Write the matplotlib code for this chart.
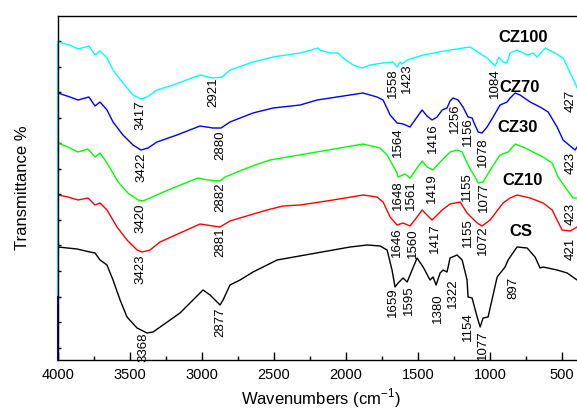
import matplotlib
matplotlib.use("Agg")
import matplotlib.pyplot as plt
from matplotlib.ticker import MultipleLocator

plt.rcParams['font.family'] = ['Liberation Sans', 'DejaVu Sans']
plt.rcParams['mathtext.fontset'] = 'custom'
plt.rcParams['mathtext.rm'] = 'Liberation Sans'

# ---------------- data (wavenumber, offset transmittance) ----------------
cz100_x = [4000, 3917, 3861, 3785, 3743, 3708, 3660, 3618, 3549, 3479, 3424, 3382, 3313, 3201, 3014,
           2924, 2861, 2806, 2646, 2507, 2319, 2194, 2181, 2111, 2056, 2021, 1951, 1889, 1833, 1743,
           1674, 1646, 1625, 1611, 1576, 1465, 1278, 1139, 1021, 986, 965, 938, 910, 882, 861, 813,
           743, 701, 674, 618, 563, 493, 444, 410, 396]
cz100_y = [318, 315, 311, 314, 305, 309, 302, 290, 277, 265, 261, 263, 270, 275, 285,
           282, 283, 290, 298, 303, 307, 312, 310, 307, 307, 302, 295, 292, 295, 297,
           298, 293, 298, 296, 300, 305, 310, 313, 302, 297, 294, 303, 298, 297, 307, 310,
           305, 307, 303, 312, 308, 302, 287, 277, 272]

cz70_x = [4000, 3917, 3861, 3785, 3743, 3708, 3660, 3618, 3549, 3479, 3424, 3375, 3313, 3174, 3014,
          2924, 2868, 2806, 2646, 2507, 2319, 2201, 1882, 1785, 1743, 1694, 1646, 1604, 1556, 1507,
          1472, 1438, 1403, 1368, 1333, 1299, 1278, 1257, 1222, 1188, 1153, 1125, 1111, 1083, 1056,
          1021, 979, 931, 882, 861, 826, 792, 722, 653, 597, 535, 493, 444, 410, 396]
cz70_y = [267, 263, 260, 263, 254, 258, 250, 238, 225, 215, 210, 212, 218, 225, 234,
          232, 232, 238, 247, 252, 255, 260, 267, 263, 260, 245, 237, 236, 233, 243,
          250, 244, 240, 243, 250, 252, 259, 262, 260, 253, 243, 242, 237, 228, 227,
          233, 243, 255, 258, 262, 267, 265, 258, 253, 248, 233, 220, 214, 210, 213]

cz30_x = [4000, 3931, 3861, 3792, 3743, 3708, 3674, 3639, 3583, 3514, 3444, 3410, 3347, 3236, 3028,
          2958, 2875, 2840, 2722, 2632, 2528, 1882, 1764, 1715, 1646, 1639, 1590, 1556, 1507, 1472,
          1438, 1396, 1347, 1278, 1229, 1194, 1160, 1139, 1104, 1083, 1049, 986, 931, 896, 875,
          826, 771, 701, 632, 569, 528, 465, 424, 396]
cz30_y = [217, 213, 208, 211, 203, 207, 200, 192, 178, 167, 160, 159, 163, 170, 182,
          180, 179, 183, 190, 195, 200, 216, 212, 205, 187, 183, 186, 182, 192, 199,
          193, 190, 198, 208, 210, 208, 197, 191, 183, 177, 178, 193, 205, 207, 208,
          216, 213, 208, 203, 197, 183, 170, 162, 162]

cz10_x = [4000, 3931, 3861, 3792, 3743, 3708, 3660, 3590, 3521, 3451, 3417, 3361, 3292, 3153, 3014,
          2924, 2875, 2806, 2667, 2549, 2438, 2319, 2090, 1882, 1785, 1743, 1694, 1646, 1604, 1556,
          1507, 1472, 1438, 1403, 1368, 1333, 1278, 1208, 1160, 1139, 1090, 1056, 1000, 910, 861,
          813, 722, 632, 569, 535, 500, 444, 396]
cz10_y = [165, 163, 160, 162, 155, 157, 150, 133, 120, 110, 108, 110, 118, 127, 136,
          134, 133, 139, 145, 150, 154, 155, 160, 165, 163, 158, 143, 135, 137, 134,
          143, 150, 145, 140, 145, 150, 156, 158, 147, 144, 137, 134, 140, 157, 162,
          165, 162, 157, 150, 140, 130, 129, 133]

cs_x = [4000, 3868, 3778, 3743, 3708, 3660, 3618, 3569, 3521, 3451, 3382, 3340, 3271, 3153, 3063,
        2993, 2944, 2875, 2854, 2806, 2736, 2646, 2479, 1972, 1854, 1764, 1715, 1681, 1660, 1639,
        1604, 1576, 1507, 1465, 1417, 1396, 1375, 1347, 1326, 1299, 1278, 1229, 1194, 1160, 1153,
        1125, 1090, 1069, 1049, 1014, 951, 896, 875, 813, 743, 688, 653, 632, 535, 465, 396]
cs_y = [113, 111, 108, 107, 100, 95, 80, 60, 43, 32, 27, 28, 35, 47, 60,
        70, 65, 55, 60, 75, 80, 88, 100, 113, 115, 114, 110, 90, 73, 77,
        82, 78, 102, 93, 80, 83, 75, 87, 90, 88, 102, 105, 100, 80, 63,
        62, 43, 33, 42, 43, 83, 93, 100, 113, 112, 103, 92, 93, 90, 87, 80]

series_names = ['CZ100', 'CZ70', 'CZ30', 'CZ10', 'CS']
series_colors = ['#00FFFF', '#0000FF', '#00FF00', '#FF0000', '#000000']

# peak labels: (text, wavenumber position, top y)
peaks_cz100 = [('3417', 3431, 260), ('2921', 2924, 283), ('1558', 1674, 292), ('1423', 1576, 297),
               ('1084', 965, 292), ('427', 438, 270)]
peaks_cz70 = [('3422', 3424, 208), ('2880', 2875, 230), ('1564', 1639, 233), ('1416', 1396, 237),
              ('1256', 1243, 257), ('1156', 1153, 243), ('1078', 1049, 223), ('423', 438, 208)]
peaks_cz30 = [('3420', 3431, 157), ('2882', 2875, 178), ('1648', 1639, 180), ('1561', 1549, 180),
              ('1419', 1403, 187), ('1155', 1160, 188), ('1077', 1042, 178), ('423', 438, 157)]
peaks_cz10 = [('3423', 3431, 105), ('2881', 2875, 133), ('1646', 1646, 133), ('1560', 1535, 132),
              ('1417', 1382, 137), ('1155', 1153, 142), ('1072', 1049, 135), ('421', 438, 122)]
peaks_cs = [('3368', 3410, 28), ('2877', 2875, 53), ('1659', 1674, 73), ('1595', 1563, 75),
            ('1380', 1361, 67), ('1322', 1257, 82), ('1154', 1153, 48), ('1077', 1049, 30),
            ('897', 840, 83)]

# series name label positions (wavenumber, y center)
name_x = [771, 792, 806, 778, 785]
name_y = [323, 273, 232, 180, 129]

xticks = [4000, 3500, 3000, 2500, 2000, 1500, 1000, 500]

# ---------------- figure ----------------
fig = plt.figure(figsize=(5.77, 4.11), dpi=100)
ax = fig.add_axes([58 / 577, 1 - 360 / 411, (583 - 58) / 577, (360 - 16) / 411])

xs = [cz100_x, cz70_x, cz30_x, cz10_x, cs_x]
ys = [cz100_y, cz70_y, cz30_y, cz10_y, cs_y]
peaks = [peaks_cz100, peaks_cz70, peaks_cz30, peaks_cz10, peaks_cs]

for x, y, c in zip(xs, ys, series_colors):
    ax.plot(x, y, color=c, lw=1.0)

for plist in peaks:
    for txt, wx, wy in plist:
        ax.text(wx, wy, txt, rotation=90, ha='center', va='top', fontsize=9.5, color='black')

for name, nx, ny in zip(series_names, name_x, name_y):
    ax.text(nx, ny, name, ha='center', va='center', fontsize=12, fontweight='bold')

ax.set_xlim(4000, 355)
ax.set_ylim(0, 344)
ax.set_xticks(xticks)
ax.xaxis.set_minor_locator(MultipleLocator(250))
ax.tick_params(axis='x', which='major', direction='in', length=6, width=1, labelsize=10.5, pad=6)
ax.tick_params(axis='x', which='minor', direction='in', length=3, width=1)
ax.set_yticks([344 - 25.5 * k for k in range(1, 14)])
ax.set_yticklabels([])
ax.tick_params(axis='y', which='major', direction='in', length=2.5, width=1)

for s in ['top', 'bottom', 'left']:
    ax.spines[s].set_linewidth(1.0)
ax.spines['right'].set_visible(False)

# coloured left edge (curve start lines overlapping the axis)
ax.axvline(4000, ymin=63 / 344, ymax=cz100_y[0] / 344, color=series_colors[0], lw=1.5, clip_on=False)
ax.axvline(4000, ymin=0, ymax=63 / 344, color=series_colors[1], lw=1.5, clip_on=False)

ax.set_xlabel('Wavenumbers (cm$^{-1}$)', fontsize=12, labelpad=3)
ax.set_ylabel('Transmittance %', fontsize=12, labelpad=17)

fig.savefig('out.png', dpi=100)
